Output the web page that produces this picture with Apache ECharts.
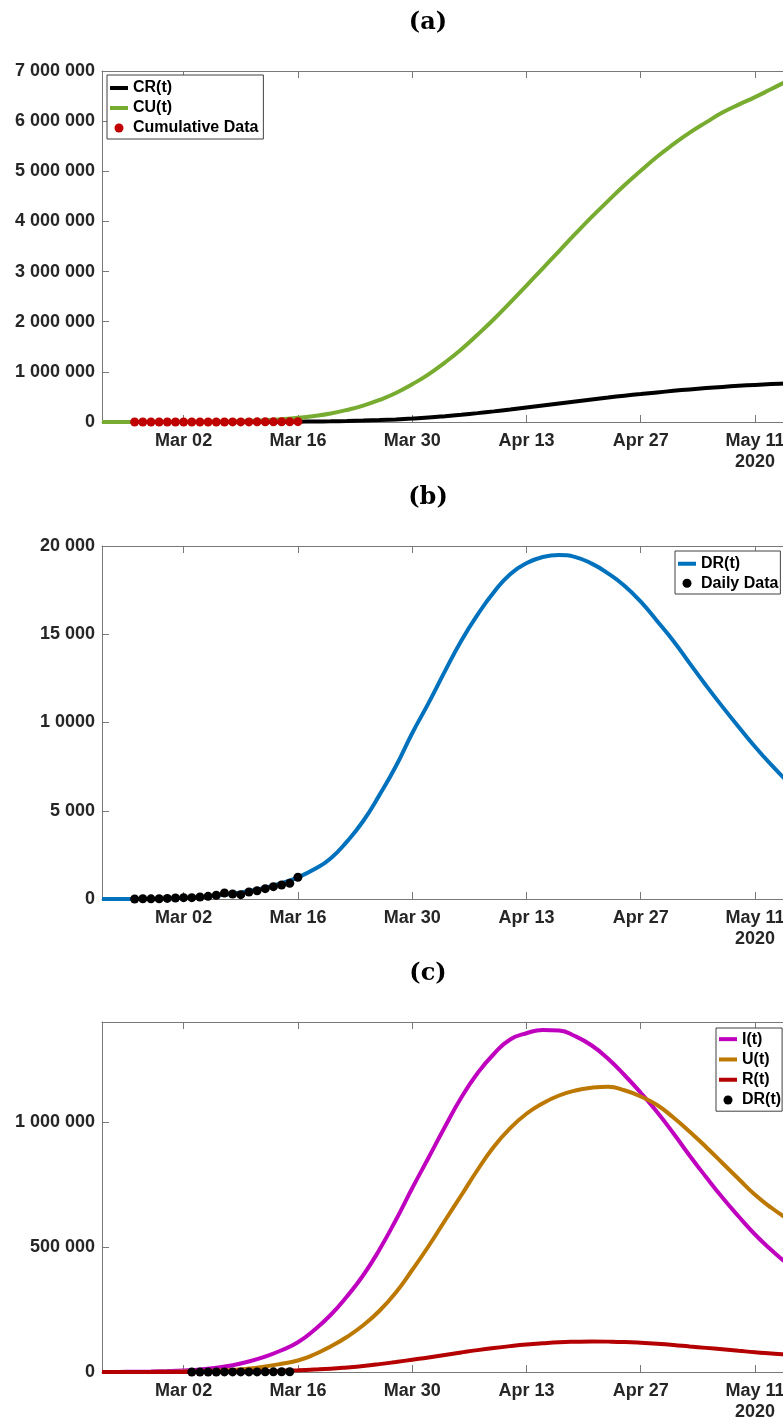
<!DOCTYPE html>
<html>
<head>
<meta charset="utf-8">
<script src="https://cdn.jsdelivr.net/npm/echarts@6/dist/echarts.min.js"></script>
<style>
html,body{margin:0;padding:0;overflow:hidden;background:#ffffff;}
#chart{width:830px;height:1423px;}
</style>
</head>
<body>
<div id="chart"></div>
<script>
// x values are days counted from 2020-02-21 (day 0)
const xTickDays = [10, 24, 38, 52, 66, 80];
const xTickLabels = ['Mar 02', 'Mar 16', 'Mar 30', 'Apr 13', 'Apr 27', 'May 11\n2020'];

const yTicksA = [0, 1000000, 2000000, 3000000, 4000000, 5000000, 6000000, 7000000];
const yLabelsA = ['0', '1 000 000', '2 000 000', '3 000 000', '4 000 000', '5 000 000', '6 000 000', '7 000 000'];
const yTicksB = [0, 5000, 10000, 15000, 20000];
const yLabelsB = ['0', '5 000', '1 0000', '15 000', '20 000'];
const yTicksC = [0, 500000, 1000000];
const yLabelsC = ['0', '500 000', '1 000 000'];

const panelTitles = ['(a)', '(b)', '(c)'];

// model curves sampled every 2 days
const curveDays = [0, 2, 4, 6, 8, 10, 12, 14, 16, 18, 20, 22, 24, 26, 28, 30, 32, 34, 36, 38, 40, 42, 44, 46, 48, 50, 52, 54, 56, 58, 60, 62, 64, 66, 68, 70, 72, 74, 76, 78, 80, 82, 84, 86, 88];
const crValues = [0, 2, 10, 30, 60, 200, 400, 750, 1200, 2000, 3000, 4800, 7000, 10000, 14000, 20000, 28000, 38500, 52000, 69000, 90000, 116000, 145000, 177000, 212000, 250000, 290000, 330000, 370000, 410000, 450000, 488000, 525000, 558000, 590000, 621000, 650000, 676000, 700000, 721000, 740000, 756000, 770000, 781000, 790000];
const cuValues = [0, 200, 500, 1100, 2000, 3200, 5000, 8500, 14000, 23000, 37000, 56000, 83000, 121000, 171000, 240000, 327000, 440000, 578000, 752000, 950000, 1185000, 1447000, 1740000, 2050000, 2380000, 2720000, 3065000, 3410000, 3755000, 4090000, 4410000, 4720000, 5010000, 5290000, 5540000, 5770000, 5975000, 6170000, 6330000, 6480000, 6640000, 6800000, 6910000, 7020000];
const drValues = [0, 0, 0, 10, 30, 65, 120, 200, 300, 450, 640, 900, 1230, 1680, 2300, 3250, 4420, 5900, 7520, 9390, 11100, 12900, 14620, 16100, 17380, 18400, 19020, 19380, 19490, 19370, 19000, 18450, 17750, 16845, 15750, 14620, 13350, 12100, 10900, 9750, 8630, 7600, 6640, 5780, 5000];
const iValues = [0, 400, 1000, 2200, 4000, 6500, 10000, 17000, 27000, 42000, 62000, 87000, 119000, 168000, 228000, 302000, 387000, 490000, 608000, 735000, 857000, 980000, 1097000, 1195000, 1272000, 1330000, 1355000, 1368000, 1366000, 1343000, 1306000, 1253000, 1188000, 1117000, 1040000, 955000, 865000, 780000, 698000, 622000, 550000, 488000, 432000, 385000, 340000];
const uValues = [0, 50, 200, 500, 1000, 1800, 3000, 5000, 8000, 14000, 22000, 33000, 46000, 70000, 102000, 140000, 187000, 245000, 318000, 408000, 503000, 605000, 706000, 808000, 901000, 975000, 1033000, 1075000, 1106000, 1126000, 1137000, 1141000, 1127000, 1102000, 1068000, 1018000, 961000, 900000, 836000, 772000, 709000, 657000, 612000, 570000, 530000];
const rValues = [0, 0, 0, 80, 200, 380, 600, 1000, 1500, 2400, 3500, 5000, 7000, 9700, 13000, 18000, 24000, 31500, 40000, 49000, 58000, 68000, 78000, 87500, 96000, 103500, 110000, 115000, 119000, 121000, 122000, 121500, 120000, 117000, 113000, 108000, 102000, 96500, 91000, 85000, 79000, 74000, 69000, 65000, 61000];

// reported data (Feb 25 .. Mar 16)
const dataDays = [4, 5, 6, 7, 8, 9, 10, 11, 12, 13, 14, 15, 16, 17, 18, 19, 20, 21, 22, 23, 24];
const cumulativeData = [12, 27, 37, 52, 87, 142, 217, 292, 407, 557, 767, 1107, 1392, 1637, 2032, 2502, 3087, 3787, 4582, 5472, 6702];
const dailyData = [0, 15, 10, 15, 35, 55, 75, 75, 115, 150, 210, 340, 285, 245, 395, 470, 585, 700, 795, 890, 1230];
// panel (c) data (Mar 03 .. Mar 15)
const dataDaysC = [11, 12, 13, 14, 15, 16, 17, 18, 19, 20, 21, 22, 23];
const drDataC = [75, 115, 150, 210, 340, 285, 245, 395, 470, 585, 700, 795, 890];

const FONT = '"Liberation Sans", Arial, Helvetica, sans-serif';
const AXIS_GRAY = '#787878';
const LABEL_COLOR = '#262626';
const lineIcon = 'path://M0,0H18V4H0Z';

const pairs = (xs, ys) => xs.map((x, i) => [x, ys[i]]);
const lookup = (ticks, labels) => (v) => { const i = ticks.indexOf(v); return i < 0 ? '' : labels[i]; };

const grids = [
  { left: 102, right: 26, top: 71, height: 351 },
  { left: 102, right: 26, top: 546, height: 353 },
  { left: 102, right: 26, top: 1022, height: 354 }
];
const titleY = [23, 498, 974];

const xAxes = [];
grids.forEach((g, gi) => {
  xAxes.push({
    type: 'value', gridIndex: gi, position: 'bottom', min: 0, max: 86,
    axisLine: { show: true, onZero: false, lineStyle: { color: AXIS_GRAY, width: 1 } },
    axisTick: { show: true, inside: true, length: 7, customValues: xTickDays, lineStyle: { color: AXIS_GRAY } },
    axisLabel: {
      show: true, customValues: xTickDays, formatter: lookup(xTickDays, xTickLabels),
      color: LABEL_COLOR, fontSize: 18, fontWeight: 'bold', fontFamily: FONT, margin: 9, lineHeight: 21
    },
    splitLine: { show: false }
  });
  xAxes.push({
    type: 'value', gridIndex: gi, position: 'top', min: 0, max: 86,
    axisLine: { show: true, onZero: false, lineStyle: { color: AXIS_GRAY, width: 1 } },
    axisTick: { show: true, inside: true, length: 7, customValues: xTickDays, lineStyle: { color: AXIS_GRAY } },
    axisLabel: { show: false },
    splitLine: { show: false }
  });
});

function yAxis(gi, max, ticks, labels) {
  return {
    type: 'value', gridIndex: gi, min: 0, max: max,
    axisLine: { show: true, onZero: false, lineStyle: { color: AXIS_GRAY, width: 1 } },
    axisTick: { show: true, inside: true, length: 7, customValues: ticks, lineStyle: { color: AXIS_GRAY } },
    axisLabel: {
      show: true, customValues: ticks, formatter: lookup(ticks, labels),
      color: LABEL_COLOR, fontSize: 18, fontWeight: 'bold', fontFamily: FONT, margin: 7
    },
    splitLine: { show: false }
  };
}

function lineSeries(name, xi, yi, ys, color) {
  return {
    type: 'line', name: name, xAxisIndex: xi, yAxisIndex: yi,
    data: pairs(curveDays, ys), smooth: true,
    symbol: 'none', showSymbol: false,
    lineStyle: { color: color, width: 4 }, itemStyle: { color: color },
    animation: false
  };
}
function dotSeries(name, xi, yi, xs, ys, color) {
  return {
    type: 'scatter', name: name, xAxisIndex: xi, yAxisIndex: yi,
    data: pairs(xs, ys), symbol: 'circle', symbolSize: 9,
    itemStyle: { color: color, opacity: 1 }, z: 5, animation: false
  };
}

const legendText = { color: '#000', fontSize: 16, fontWeight: 'bold', fontFamily: FONT };
function legend(left, top, lineHeight, items, padding) {
  return {
    orient: 'vertical', left: left, top: top, itemWidth: 18, itemHeight: 9, itemGap: 0, itemTextGap: 2,
    padding: padding, borderColor: '#404040', borderWidth: 1, backgroundColor: '#ffffff',
    selectedMode: false, data: items,
    formatter: (n) => n.trim(),
    textStyle: Object.assign({ lineHeight: lineHeight }, legendText)
  };
}

const option = {
  backgroundColor: '#ffffff',
  animation: false,
  grid: grids,
  xAxis: xAxes,
  yAxis: [
    yAxis(0, 7000000, yTicksA, yLabelsA),
    yAxis(1, 20000, yTicksB, yLabelsB),
    yAxis(2, 1400000, yTicksC, yLabelsC)
  ],
  legend: [
    legend(107, 75, 20, [
      { name: 'CR(t)', icon: lineIcon },
      { name: 'CU(t)', icon: lineIcon },
      { name: 'Cumulative Data', icon: 'circle' }
    ], [3, 5, 1, 3]),
    legend(675, 551, 19.5, [
      { name: 'DR(t)', icon: lineIcon },
      { name: 'Daily Data', icon: 'circle' }
    ], [3, 2, 1, 3]),
    legend(716, 1028, 20.3, [
      { name: 'I(t)', icon: lineIcon },
      { name: 'U(t)', icon: lineIcon },
      { name: 'R(t)', icon: lineIcon },
      { name: 'DR(t) ', icon: 'circle' }
    ], [1, 1, 1, 3])
  ],
  graphic: panelTitles.map((t, i) => ({
    type: 'text', x: 428, y: titleY[i], z: 10,
    style: { text: t, fill: '#000', font: 'bold 24px "DejaVu Serif", serif', align: 'center', verticalAlign: 'middle' }
  })),
  series: [
    lineSeries('CR(t)', 0, 0, crValues, '#000000'),
    lineSeries('CU(t)', 0, 0, cuValues, '#77AC30'),
    dotSeries('Cumulative Data', 0, 0, dataDays, cumulativeData, '#C00000'),
    lineSeries('DR(t)', 2, 1, drValues, '#0072BD'),
    dotSeries('Daily Data', 2, 1, dataDays, dailyData, '#000000'),
    lineSeries('I(t)', 4, 2, iValues, '#BF00BF'),
    lineSeries('U(t)', 4, 2, uValues, '#BC7800'),
    lineSeries('R(t)', 4, 2, rValues, '#B40000'),
    dotSeries('DR(t) ', 4, 2, dataDaysC, drDataC, '#000000')
  ]
};

const chart = echarts.init(document.getElementById('chart'), null, { renderer: 'canvas' });
chart.setOption(option);
</script>
</body>
</html>
